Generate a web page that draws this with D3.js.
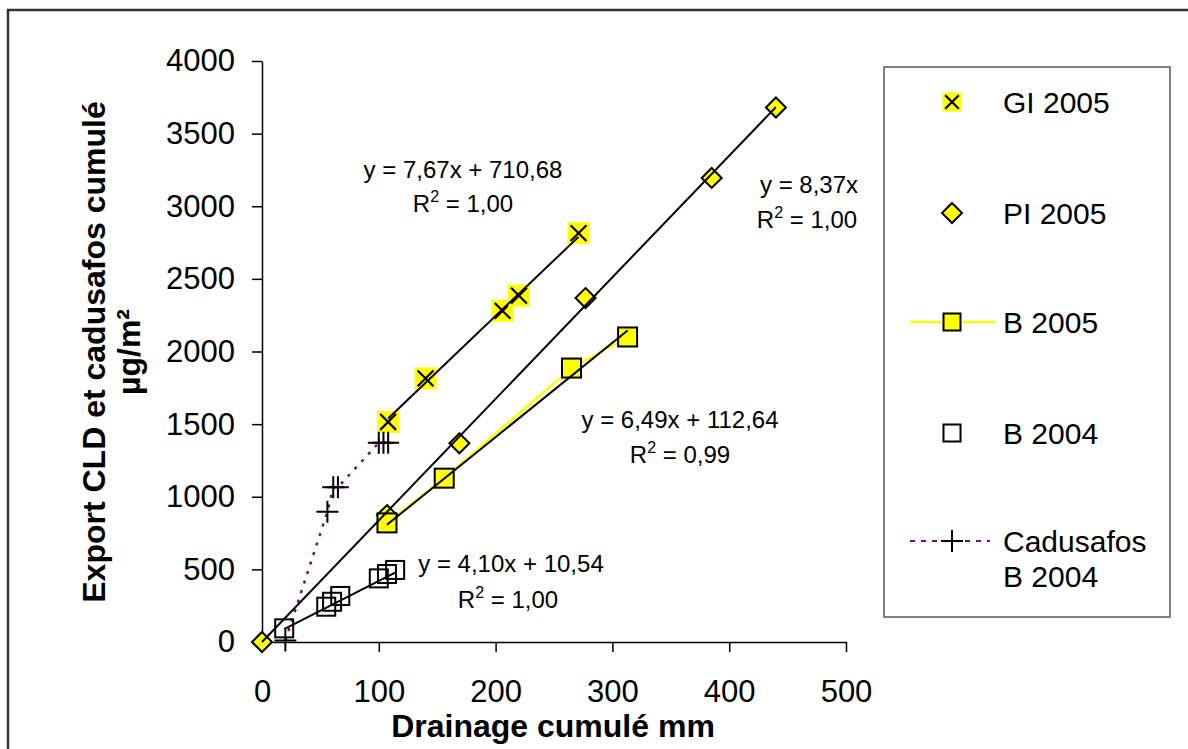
<!DOCTYPE html>
<html>
<head>
<meta charset="utf-8">
<script src="https://cdn.jsdelivr.net/npm/d3@7"></script>
<style>
    body { margin: 0; background: #fff; }
    text { font-family: "Liberation Sans", Arial, sans-serif; fill: #000; }
</style>
</head>
<body>
<div id="chart"></div>
<script>
// values
var xTicks = [0, 100, 200, 300, 400, 500];
var yTicks = [0, 500, 1000, 1500, 2000, 2500, 3000, 3500, 4000];

var giX = [108, 140, 206, 220, 271];
var giY = [1515, 1815, 2280, 2385, 2815];

var piX = [0, 107, 169, 277, 385, 440];
var piY = [0, 874, 1368, 2368, 3195, 3680];

var b05X = [107, 156, 265, 313];
var b05Y = [820, 1128, 1886, 2100];

var b04X = [19, 55, 60, 67, 100, 107, 114];
var b04Y = [94, 243, 277, 317, 438, 468, 496];

var cadX = [20, 56, 61, 65, 100, 104, 108];
var cadY = [10, 897, 1065, 1065, 1372, 1372, 1372];

// trendlines: slope, intercept (drawn over the x range of their series)
var trendSlope = [7.67, 8.37, 6.49, 4.10];
var trendIntercept = [710.68, 0, 112.64, 10.54];
var trendEq = ["y = 7,67x + 710,68", "y = 8,37x", "y = 6,49x + 112,64", "y = 4,10x + 10,54"];
var trendR2 = ["1,00", "1,00", "0,99", "1,00"];

var legendNames = ["GI 2005", "PI 2005", "B 2005", "B 2004", "Cadusafos", "B 2004"];

var width = 1188, height = 749;
var yellow = "#ffff00", purple = "#800080";

var svg = d3.select("#chart").append("svg")
    .attr("width", width)
    .attr("height", height);

var x = d3.scaleLinear().domain([0, 500]).range([262, 846]);
var y = d3.scaleLinear().domain([0, 4000]).range([642, 61]);

function zip(xs, ys) {
    return xs.map(function (v, i) { return [v, ys[i]]; });
}

// outer frame of the chart
svg.append("rect")
    .attr("x", 8).attr("y", 10)
    .attr("width", 1200).attr("height", 800)
    .attr("fill", "none")
    .attr("stroke", "#333")
    .attr("stroke-width", 2.5);

// axes
var yAxis = svg.append("g")
    .attr("transform", "translate(262,0)")
    .call(d3.axisLeft(y).tickValues(yTicks).tickFormat(d3.format("d"))
        .tickSizeInner(10).tickSizeOuter(0).tickPadding(17));
var xAxis = svg.append("g")
    .attr("transform", "translate(0,642)")
    .call(d3.axisBottom(x).tickValues(xTicks).tickFormat(d3.format("d"))
        .tickSizeInner(10).tickSizeOuter(0).tickPadding(28));

[xAxis, yAxis].forEach(function (g) {
    g.attr("font-size", 31).attr("font-family", null);
    g.selectAll("path, line").attr("stroke", "#000").attr("stroke-width", 1.5);
});

// axis titles
svg.append("text")
    .attr("x", 553).attr("y", 737)
    .attr("text-anchor", "middle")
    .style("font-size", "32px").style("font-weight", "bold")
    .text("Drainage cumulé mm");

var yTitle = svg.append("text")
    .attr("transform", "translate(105,352) rotate(-90)")
    .attr("text-anchor", "middle")
    .style("font-size", "32px").style("font-weight", "bold");
yTitle.append("tspan").attr("x", 0).attr("y", 0).text("Export CLD et cadusafos cumulé");
yTitle.append("tspan").attr("x", 0).attr("y", 35).text("µg/m²");

// marker painters, used in the plot and in the legend
function markGI(g, cx, cy, s) {
    g.append("rect").attr("x", cx - s / 2).attr("y", cy - s / 2).attr("width", s).attr("height", s)
        .attr("fill", yellow);
    var h = s * 0.36;
    g.append("path")
        .attr("d", "M" + (cx - h) + "," + (cy - h) + "L" + (cx + h) + "," + (cy + h) +
            "M" + (cx - h) + "," + (cy + h) + "L" + (cx + h) + "," + (cy - h))
        .attr("stroke", "#000").attr("stroke-width", 2.2);
}

function markPI(g, cx, cy, r) {
    g.append("path")
        .attr("d", "M" + cx + "," + (cy - r) + "L" + (cx + r) + "," + cy + "L" + cx + "," + (cy + r) + "L" + (cx - r) + "," + cy + "Z")
        .attr("fill", yellow).attr("stroke", "#000").attr("stroke-width", 2);
}

function markSquare(g, cx, cy, s, fill) {
    g.append("rect").attr("x", cx - s / 2).attr("y", cy - s / 2).attr("width", s).attr("height", s)
        .attr("fill", fill).attr("stroke", "#000").attr("stroke-width", 2);
}

function markPlus(g, cx, cy, s) {
    var h = s / 2;
    g.append("path")
        .attr("d", "M" + (cx - h) + "," + cy + "L" + (cx + h) + "," + cy + "M" + cx + "," + (cy - h) + "L" + cx + "," + (cy + h))
        .attr("stroke", "#000").attr("stroke-width", 2);
}

var line = d3.line()
    .x(function (d) { return x(d[0]); })
    .y(function (d) { return y(d[1]); });

var plot = svg.append("g").attr("class", "plot");

// series lines
plot.append("path")
    .datum(zip(b05X, b05Y))
    .attr("d", line)
    .attr("fill", "none").attr("stroke", yellow).attr("stroke-width", 2.5);

plot.append("path")
    .datum(zip(cadX, cadY))
    .attr("d", line)
    .attr("fill", "none").attr("stroke", purple).attr("stroke-width", 2.5)
    .attr("stroke-dasharray", "3,7");

// markers
zip(giX, giY).forEach(function (d) { markGI(plot, x(d[0]), y(d[1]), 22); });
zip(piX, piY).forEach(function (d) { markPI(plot, x(d[0]), y(d[1]), 10); });
zip(b05X, b05Y).forEach(function (d) { markSquare(plot, x(d[0]), y(d[1]), 19, yellow); });
zip(b04X, b04Y).forEach(function (d) { markSquare(plot, x(d[0]), y(d[1]), 18, "none"); });
zip(cadX, cadY).forEach(function (d) { markPlus(plot, x(d[0]), y(d[1]), 22); });

// linear trendlines on top
var trendRanges = [giX, piX, b05X, b04X];
trendRanges.forEach(function (xs, i) {
    var x0 = d3.min(xs), x1 = d3.max(xs);
    var pts = [x0, x1].map(function (v) { return [v, trendSlope[i] * v + trendIntercept[i]]; });
    plot.append("path")
        .datum(pts)
        .attr("d", line)
        .attr("fill", "none").attr("stroke", "#000").attr("stroke-width", 2);
});

// equation labels
var eqPos = [[463, 178], [809, 193], [680, 428], [511, 572]];
var r2Pos = [[463, 212], [807, 228], [680, 463], [508, 608]];
trendEq.forEach(function (t, i) {
    svg.append("text")
        .attr("x", eqPos[i][0]).attr("y", eqPos[i][1])
        .attr("text-anchor", "middle")
        .style("font-size", "24px")
        .text(t);
    var r = svg.append("text")
        .attr("x", r2Pos[i][0]).attr("y", r2Pos[i][1])
        .attr("text-anchor", "middle")
        .style("font-size", "24px");
    r.append("tspan").text("R");
    r.append("tspan").attr("dy", -10).style("font-size", "16px").text("2");
    r.append("tspan").attr("dy", 10).text(" = " + trendR2[i]);
});

// legend
var legend = svg.append("g").attr("class", "legend");
legend.append("rect")
    .attr("x", 884).attr("y", 67)
    .attr("width", 286).attr("height", 550)
    .attr("fill", "#fff")
    .attr("stroke", "#808080").attr("stroke-width", 2);

var legendY = [102, 213, 322, 433, 541, 576];
var mx = 952, tx = 1003;

markGI(legend, mx, legendY[0], 19);
markPI(legend, mx, legendY[1], 10);
legend.append("line")
    .attr("x1", 910).attr("x2", 995).attr("y1", legendY[2]).attr("y2", legendY[2])
    .attr("stroke", yellow).attr("stroke-width", 2.5);
markSquare(legend, mx, legendY[2], 17, yellow);
markSquare(legend, mx, legendY[3], 17, "#fff");
legend.append("line")
    .attr("x1", 910).attr("x2", 990).attr("y1", legendY[4]).attr("y2", legendY[4])
    .attr("stroke", purple).attr("stroke-width", 2).attr("stroke-dasharray", "5,6");
markPlus(legend, mx, legendY[4], 22);

legendNames.forEach(function (name, i) {
    legend.append("text")
        .attr("x", tx).attr("y", legendY[i])
        .attr("dy", "0.36em")
        .style("font-size", "30px")
        .text(name);
});
</script>
</body>
</html>
